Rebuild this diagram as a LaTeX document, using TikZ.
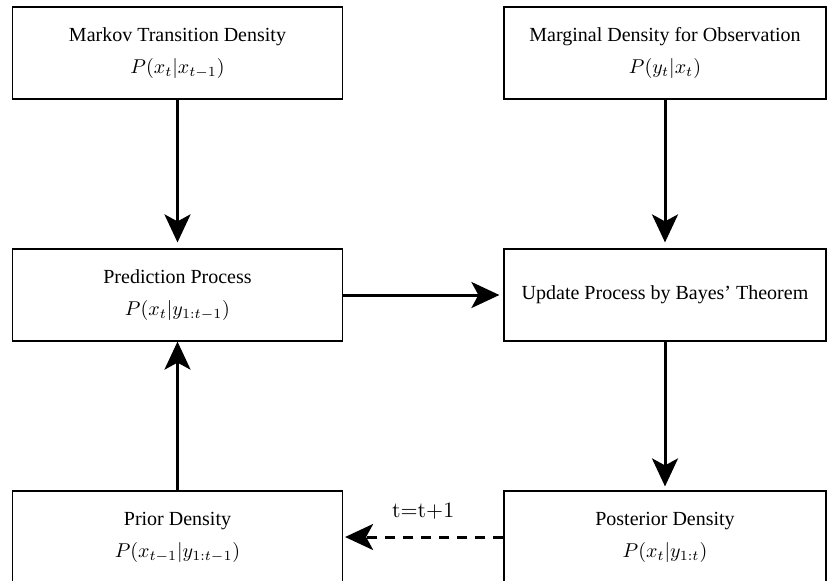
\documentclass[tikz,border=0pt]{standalone}
\usepackage[no-math]{fontspec}
\setmainfont{Liberation Serif}
\usepackage{amsmath}
\usetikzlibrary{arrows.meta}
\tikzset{densbox/.style={draw, line width=0.6pt, minimum width=165pt, minimum height=46pt, inner sep=0pt, align=center, font=\fontsize{10}{16}\selectfont}}
\tikzset{flow/.style={line width=1.5pt, -{Stealth[length=14pt,width=13pt,inset=3.5pt]}}}

\begin{document}
\begin{tikzpicture}[x=0.5pt,y=-0.5pt]
\useasboundingbox (0,0) rectangle (828,580);

% left column
\node[densbox] (markov) at (177.5,53) {Markov Transition Density\\ $P(x_t|x_{t-1})$};
\node[densbox] (pred) at (177.5,295) {Prediction Process\\ $P(x_t|y_{1:t-1})$};
\node[densbox] (prior) at (177.5,537) {Prior Density\\ $P(x_{t-1}|y_{1:t-1})$};

% right column
\node[densbox, minimum width=161pt] (marg) at (665,53) {Marginal Density for Observation\\ $P(y_t|x_t)$};
\node[densbox, minimum width=161pt] (update) at (665,295) {Update Process by Bayes’ Theorem};
\node[densbox, minimum width=161pt] (post) at (665,537) {Posterior Density\\ $P(x_t|y_{1:t})$};

\draw[flow, shorten >=3pt] (markov) -- (pred);
\draw[flow, shorten >=3pt] (marg) -- (update);
\draw[flow, shorten >=2pt] (pred) -- (update);
\draw[flow, shorten >=2pt] (update) -- (post);
\draw[flow] (prior) -- (pred);
\draw[flow, dash pattern=on 5pt off 4pt, shorten >=1pt] (post) -- node[above=5pt, font=\fontsize{11}{13}\selectfont] (step) {$\mathrm{t}{=}\mathrm{t}{+}1$} (prior);

\end{tikzpicture}
\end{document}
